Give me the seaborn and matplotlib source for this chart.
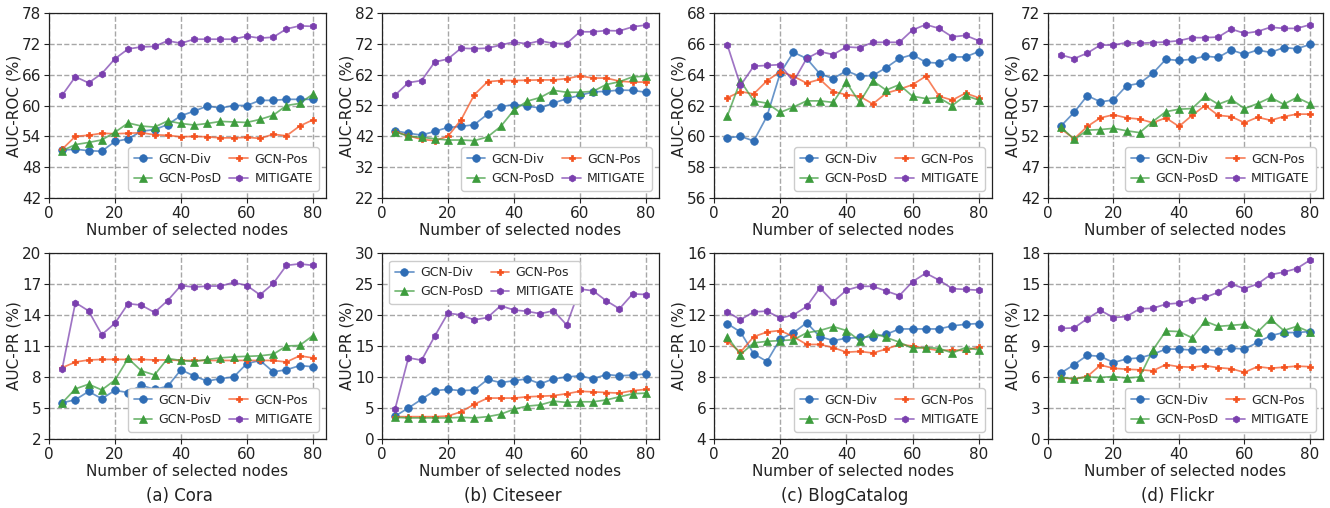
import numpy as np
import pandas as pd
import matplotlib
matplotlib.use("Agg")
import matplotlib.pyplot as plt
import matplotlib.colors as mcolors
import seaborn as sns

x_nodes = list(range(4, 84, 4))
methods = ["GCN-Div", "GCN-Pos", "GCN-PosD", "MITIGATE"]

# ---- AUC-ROC ----
cora_roc_div = [51.3, 51.5, 51.2, 51.1, 53.0, 53.5, 55.0, 55.3, 56.3, 58.0, 58.9, 59.9, 59.5, 60.0, 60.0, 61.0, 61.0, 61.2, 61.2, 61.2]
cora_roc_pos = [51.5, 54.0, 54.2, 54.6, 54.5, 54.6, 54.7, 54.3, 54.2, 53.9, 54.0, 53.9, 53.7, 53.7, 53.8, 53.6, 54.4, 54.1, 56.0, 57.2]
cora_roc_posd = [51.2, 52.4, 52.8, 53.3, 54.8, 56.6, 56.0, 55.8, 57.0, 56.5, 56.2, 56.5, 56.9, 56.8, 56.7, 57.3, 58.1, 60.0, 60.4, 62.2]
cora_roc_mit = [62.0, 65.6, 64.4, 66.2, 69.1, 71.0, 71.4, 71.5, 72.6, 72.1, 72.9, 72.9, 72.9, 72.9, 73.5, 73.1, 73.3, 74.9, 75.5, 75.4]

cite_roc_div = [43.8, 43.0, 42.4, 43.6, 44.9, 45.2, 45.8, 49.2, 51.6, 52.3, 51.8, 51.2, 52.8, 54.2, 55.3, 56.4, 56.6, 57.0, 56.9, 56.3]
cite_roc_pos = [43.5, 42.2, 41.0, 40.6, 42.0, 47.4, 55.5, 59.7, 60.1, 60.1, 60.2, 60.3, 60.3, 60.7, 61.6, 60.9, 60.9, 59.9, 59.6, 59.6]
cite_roc_posd = [43.5, 42.0, 41.7, 41.2, 40.8, 40.8, 40.6, 41.8, 45.2, 50.5, 53.4, 54.6, 56.9, 56.3, 56.3, 56.6, 58.8, 59.7, 61.3, 61.5]
cite_roc_mit = [55.4, 59.4, 60.1, 66.1, 67.1, 70.6, 70.4, 70.6, 71.6, 72.6, 72.0, 73.0, 72.1, 72.1, 75.9, 75.9, 76.3, 76.2, 77.5, 78.1]

blog_roc_div = [59.9, 60.0, 59.7, 61.3, 64.1, 65.45, 65.05, 64.05, 63.75, 64.25, 63.9, 63.95, 64.45, 65.05, 65.3, 64.8, 64.75, 65.15, 65.15, 65.5]
blog_roc_pos = [62.5, 62.9, 62.75, 63.6, 64.2, 63.9, 63.45, 63.7, 62.9, 62.7, 62.6, 62.1, 62.8, 63.05, 63.35, 63.9, 62.6, 62.35, 62.8, 62.5]
blog_roc_posd = [61.3, 63.6, 62.3, 62.15, 61.55, 61.9, 62.3, 62.3, 62.2, 63.5, 62.2, 63.6, 63.0, 63.35, 62.6, 62.45, 62.5, 62.0, 62.65, 62.35]
blog_roc_mit = [65.95, 63.3, 64.55, 64.6, 64.65, 63.55, 65.05, 65.5, 65.3, 65.8, 65.75, 66.1, 66.1, 66.1, 66.9, 67.25, 67.0, 66.45, 66.55, 66.2]

flickr_roc_div = [53.7, 55.9, 58.6, 57.6, 57.9, 60.2, 60.6, 62.2, 64.5, 64.3, 64.5, 65.0, 64.8, 66.0, 65.3, 66.0, 65.6, 66.4, 66.2, 66.9]
flickr_roc_pos = [53.2, 51.6, 53.6, 55.0, 55.5, 55.0, 54.8, 54.2, 55.0, 53.6, 55.4, 57.0, 55.4, 55.2, 54.2, 55.1, 54.6, 55.2, 55.6, 55.6]
flickr_roc_posd = [53.5, 51.5, 53.0, 53.1, 53.3, 52.9, 52.6, 54.4, 56.0, 56.4, 56.5, 58.5, 57.2, 58.0, 56.5, 57.3, 58.3, 57.2, 58.3, 57.3]
flickr_roc_mit = [65.2, 64.6, 65.5, 66.8, 66.8, 67.2, 67.1, 67.2, 67.3, 67.5, 68.0, 68.0, 68.1, 69.4, 68.7, 69.0, 69.7, 69.5, 69.5, 70.1]

# ---- AUC-PR ----
cora_pr_div = [5.5, 5.8, 6.6, 5.9, 6.7, 6.5, 7.2, 6.8, 7.1, 8.7, 8.1, 7.6, 7.85, 8.0, 9.3, 9.6, 8.5, 8.7, 9.1, 9.0]
cora_pr_pos = [8.9, 9.45, 9.65, 9.7, 9.7, 9.7, 9.7, 9.65, 9.65, 9.6, 9.6, 9.6, 9.6, 9.6, 9.6, 9.6, 9.6, 9.45, 10.05, 9.85]
cora_pr_posd = [5.5, 6.85, 7.3, 6.75, 7.7, 9.8, 8.6, 8.2, 9.8, 9.6, 9.5, 9.7, 9.85, 9.95, 10.0, 10.05, 10.2, 11.0, 11.05, 12.0]
cora_pr_mit = [8.8, 15.2, 14.4, 12.1, 13.2, 15.1, 14.95, 14.25, 15.4, 16.85, 16.7, 16.8, 16.8, 17.15, 16.85, 15.95, 17.05, 18.8, 18.95, 18.8]

cite_pr_div = [3.7, 5.0, 6.4, 7.8, 8.0, 7.8, 7.9, 9.6, 9.1, 9.4, 9.7, 8.9, 9.7, 10.0, 10.2, 9.7, 10.4, 10.2, 10.3, 10.5]
cite_pr_pos = [3.6, 3.6, 3.6, 3.6, 3.7, 4.4, 5.6, 6.6, 6.6, 6.6, 6.8, 6.9, 7.0, 7.3, 7.7, 7.6, 7.5, 7.4, 7.8, 8.0]
cite_pr_posd = [3.5, 3.4, 3.4, 3.4, 3.4, 3.5, 3.4, 3.6, 4.0, 4.8, 5.3, 5.5, 6.1, 5.9, 6.0, 6.0, 6.3, 6.8, 7.3, 7.4]
cite_pr_mit = [4.9, 13.1, 12.7, 16.6, 20.3, 20.0, 19.2, 19.6, 21.5, 20.8, 20.6, 20.2, 20.7, 18.4, 24.2, 23.9, 22.3, 21.0, 23.4, 23.3]

blog_pr_div = [11.45, 10.9, 9.5, 9.0, 10.45, 10.85, 11.5, 10.6, 10.35, 10.5, 10.55, 10.6, 10.75, 11.1, 11.1, 11.1, 11.1, 11.3, 11.4, 11.45]
blog_pr_pos = [10.3, 9.6, 10.6, 10.9, 11.0, 10.6, 10.1, 10.1, 9.9, 9.6, 9.65, 9.55, 9.8, 10.1, 10.0, 9.85, 9.7, 9.75, 9.7, 9.95]
blog_pr_posd = [10.6, 9.45, 10.2, 10.3, 10.35, 10.4, 10.85, 11.0, 11.25, 11.0, 10.35, 10.85, 10.55, 10.25, 9.85, 9.9, 9.85, 9.55, 9.9, 9.75]
blog_pr_mit = [12.2, 11.7, 12.2, 12.25, 11.8, 12.0, 12.55, 13.75, 12.85, 13.6, 13.85, 13.85, 13.55, 13.25, 14.15, 14.7, 14.25, 13.7, 13.65, 13.6]

flickr_pr_div = [6.4, 7.2, 8.1, 8.0, 7.4, 7.75, 7.85, 8.2, 8.7, 8.7, 8.6, 8.7, 8.5, 8.8, 8.7, 9.35, 10.0, 10.3, 10.3, 10.4]
flickr_pr_pos = [5.95, 5.8, 6.05, 7.15, 6.85, 6.75, 6.7, 6.6, 7.2, 7.0, 6.95, 7.1, 6.9, 6.8, 6.45, 7.0, 6.85, 6.95, 7.05, 7.0]
flickr_pr_posd = [5.95, 5.85, 6.0, 5.95, 6.05, 5.9, 6.0, 8.6, 10.45, 10.4, 9.8, 11.4, 10.9, 11.0, 11.1, 10.35, 11.6, 10.5, 10.9, 10.35]
flickr_pr_mit = [10.7, 10.75, 11.65, 12.45, 11.75, 11.85, 12.6, 12.65, 13.05, 13.15, 13.5, 13.7, 14.2, 15.0, 14.55, 15.0, 15.9, 16.15, 16.5, 17.3]

captions = ["(a) Cora", "(b) Citeseer", "(c) BlogCatalog", "(d) Flickr"]
roc_ticks = [[42, 48, 54, 60, 66, 72, 78], [22, 32, 42, 52, 62, 72, 82],
             [56, 58, 60, 62, 64, 66, 68], [42, 47, 52, 57, 62, 67, 72]]
pr_ticks = [[2, 5, 8, 11, 14, 17, 20], [0, 5, 10, 15, 20, 25, 30],
            [4, 6, 8, 10, 12, 14, 16], [0, 3, 6, 9, 12, 15, 18]]
x_ticks = [0, 20, 40, 60, 80]

roc_data = [
    [cora_roc_div, cora_roc_pos, cora_roc_posd, cora_roc_mit],
    [cite_roc_div, cite_roc_pos, cite_roc_posd, cite_roc_mit],
    [blog_roc_div, blog_roc_pos, blog_roc_posd, blog_roc_mit],
    [flickr_roc_div, flickr_roc_pos, flickr_roc_posd, flickr_roc_mit],
]
pr_data = [
    [cora_pr_div, cora_pr_pos, cora_pr_posd, cora_pr_mit],
    [cite_pr_div, cite_pr_pos, cite_pr_posd, cite_pr_mit],
    [blog_pr_div, blog_pr_pos, blog_pr_posd, blog_pr_mit],
    [flickr_pr_div, flickr_pr_pos, flickr_pr_posd, flickr_pr_mit],
]

colors = {"GCN-Div": "#2f6db5", "GCN-Pos": "#f4511e", "GCN-PosD": "#3d9c3d", "MITIGATE": "#7a3fae"}
markers = {"GCN-Div": "o", "GCN-Pos": "P", "GCN-PosD": "^", "MITIGATE": "h"}
msizes = {"GCN-Div": 5.5, "GCN-Pos": 4.5, "GCN-PosD": 5.5, "MITIGATE": 5}

sns.set_style("white")
plt.rcParams['font.family'] = ['DejaVu Sans']

W, H = 1330, 508
fig = plt.figure(figsize=(W / 100, H / 100), dpi=100)

lefts = [49, 382, 714, 1048]
widths = [277, 277, 278, 275]
rows = [(13, 198), (253, 439)]


def make_df(series):
    frames = []
    for m, vals in zip(methods, series):
        frames.append(pd.DataFrame({"x": x_nodes, "y": vals, "method": m}))
    return pd.concat(frames, ignore_index=True)


for r, (top, bot) in enumerate(rows):
    for c in range(4):
        ax = fig.add_axes([lefts[c] / W, 1 - bot / H, widths[c] / W, (bot - top) / H])
        series = roc_data[c] if r == 0 else pr_data[c]
        ticks = roc_ticks[c] if r == 0 else pr_ticks[c]
        df = make_df(series)
        for m in methods:
            sub = df[df["method"] == m]
            line_rgba = mcolors.to_rgba(colors[m], 0.72)
            sns.lineplot(data=sub, x="x", y="y", ax=ax, color=line_rgba,
                         marker=markers[m], markersize=msizes[m], markeredgewidth=0.5,
                         markerfacecolor=colors[m], markeredgecolor=colors[m],
                         linewidth=1.25, label=m)
        ax.set_xlim(0, 84)
        ax.set_ylim(ticks[0], ticks[-1])
        ax.set_xticks(x_ticks)
        ax.set_yticks(ticks)
        ax.tick_params(axis="both", labelsize=11, length=3.5, width=0.8, direction="out",
                       bottom=True, left=True, pad=2, colors="#222222")
        ax.grid(True, linestyle="--", color="#9e9e9e", linewidth=1.0, alpha=0.9)
        ax.set_axisbelow(True)
        for s in ax.spines.values():
            s.set_color("#222222")
            s.set_linewidth(0.9)
        ax.set_xlabel("Number of selected nodes", fontsize=11, labelpad=2, color="#222222")
        ax.set_ylabel("AUC-ROC (%)" if r == 0 else "AUC-PR (%)", fontsize=11, color="#222222")
        ax.yaxis.set_label_coords(-27 / widths[c], 0.5)
        handles, labels = ax.get_legend_handles_labels()
        order = [0, 2, 1, 3]
        loc = "upper left" if (r == 1 and c == 1) else "lower right"
        ax.legend([handles[i] for i in order], [labels[i] for i in order],
                  loc=loc, ncol=2, fontsize=9, frameon=True, fancybox=True,
                  edgecolor="#cccccc", framealpha=1.0, handlelength=1.5,
                  columnspacing=0.6, handletextpad=0.5, borderaxespad=0.6,
                  labelspacing=0.5, borderpad=0.45)
        if r == 1:
            cx = (lefts[c] + widths[c] / 2 - 8) / W
            fig.text(cx, 1 - 496 / H, captions[c], ha="center", va="center", fontsize=12, color="#222222")

fig.savefig("out.png", dpi=100)
